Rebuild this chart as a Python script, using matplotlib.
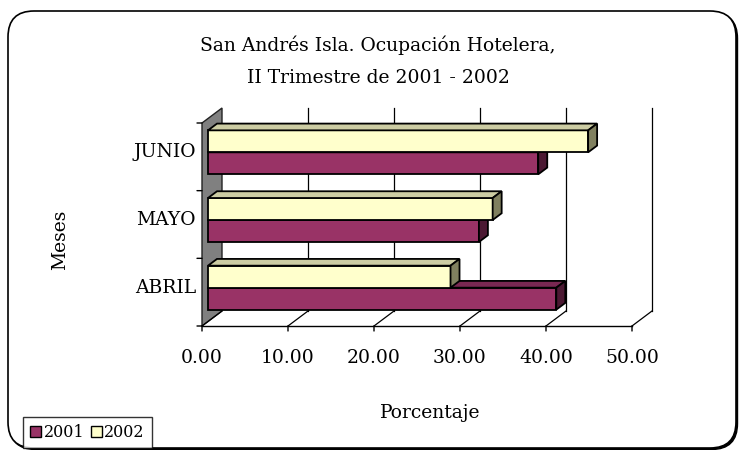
import numpy as np
import matplotlib
matplotlib.use("Agg")
import matplotlib.pyplot as plt
from matplotlib.patches import Polygon, FancyBboxPatch, Patch
from matplotlib.transforms import IdentityTransform

plt.rcParams['font.family'] = 'DejaVu Serif'

# data (percent hotel occupancy)
months = ['ABRIL', 'MAYO', 'JUNIO']
occ_2001 = [40.5, 31.5, 38.4]
occ_2002 = [28.2, 33.1, 44.2]
xticks = [0, 10, 20, 30, 40, 50]

c2001, c2001_top, c2001_side = '#993366', '#7a2852', '#4c1933'
c2002, c2002_top, c2002_side = '#ffffcc', '#cccca3', '#80805f'

FS = 13.5
W, H = 739, 450
fig = plt.figure(figsize=(W / 100, H / 100), dpi=100)

# outer rounded frame with a small shadow
shadow = FancyBboxPatch((9.5, 0.5), 728, 437, boxstyle="round,pad=0,rounding_size=26",
                        transform=IdentityTransform(), fc='black', ec='black', lw=1,
                        zorder=-2)
frame = FancyBboxPatch((8, 2), 728, 437, boxstyle="round,pad=0,rounding_size=26",
                       transform=IdentityTransform(), fc='white', ec='black', lw=1.2,
                       zorder=-1)
fig.add_artist(shadow)
fig.add_artist(frame)

# front plane of the 3d box: x 202..632 px, y 123..326 px (from top)
ax = fig.add_axes([202 / W, (H - 326) / H, 430 / W, 203 / H])
ax.set_xlim(0, 50)
ax.set_ylim(0, 3)
ax.axis('off')

# depth offsets (back wall is 20 px right, 15 px up)
DX = 20 / 8.6
DY = 15 / (203 / 3)


def P(v, c, d):
    return (v + d * DX, c + d * DY)


def poly(pts, fc, ec='black', lw=1.0, z=2):
    ax.add_patch(Polygon(pts, closed=True, fc=fc, ec=ec, lw=lw, zorder=z,
                         clip_on=False, joinstyle='miter'))


# side wall
poly([P(0, 0, 0), P(0, 3, 0), P(0, 3, 1), P(0, 0, 1)], '#808080', ec='#222222', lw=1.0, z=1)

# back gridlines and floor lines
for v in xticks:
    if v > 0:
        x0, y0 = P(v, 0, 1)
        x1, y1 = P(v, 3, 1)
        ax.plot([x0, x1], [y0, y1], color='black', lw=0.9, zorder=1, clip_on=False)
    x0, y0 = P(v, 0, 0)
    x1, y1 = P(v, 0, 1)
    ax.plot([x0, x1], [y0, y1], color='black', lw=0.9, zorder=1, clip_on=False)
ax.plot([0, 50], [0, 0], color='black', lw=1.0, zorder=1, clip_on=False)

# front ticks and tick labels
tick = dict(arrowstyle='-', lw=1.0, color='black', shrinkA=0, shrinkB=0)
for v in xticks:
    ax.annotate('', xy=(v, 0), xytext=(0, -5), textcoords='offset pixels', arrowprops=tick)
    ax.annotate('%.2f' % v, xy=(v, 0), xytext=(0, -32), textcoords='offset pixels',
                ha='center', va='center', fontsize=FS)
for c in range(4):
    ax.annotate('', xy=(0, c), xytext=(-5, 0), textcoords='offset pixels', arrowprops=tick)

# bars
h = 0.325
d0, d1 = 0.3, 0.75


def bar3d(v, y0, y1, front, top, side):
    poly([P(0, y0, d0), P(v, y0, d0), P(v, y1, d0), P(0, y1, d0)], front, lw=1.3, z=3)
    poly([P(0, y1, d0), P(v, y1, d0), P(v, y1, d1), P(0, y1, d1)], top, lw=1.3, z=3)
    poly([P(v, y0, d0), P(v, y1, d0), P(v, y1, d1), P(v, y0, d1)], side, lw=1.3, z=3)


for i, m in enumerate(months):
    c = i + 0.5
    bar3d(occ_2001[i], c - h, c, c2001, c2001_top, c2001_side)
    bar3d(occ_2002[i], c, c + h, c2002, c2002_top, c2002_side)
    lx, ly = P(0, c, d0)
    ax.annotate(m, xy=(0, ly), xytext=(-6, 0), textcoords='offset pixels',
                ha='right', va='center', fontsize=FS)

# titles and axis labels
fig.text(378 / W, 1 - 45 / H, 'San Andrés Isla. Ocupación Hotelera,',
         ha='center', va='center', fontsize=FS)
fig.text(378 / W, 1 - 78 / H, 'II Trimestre de 2001 - 2002',
         ha='center', va='center', fontsize=FS)
fig.text(60 / W, 1 - 240 / H, 'Meses', rotation=90, ha='center', va='center', fontsize=FS)
fig.text(430 / W, 1 - 413 / H, 'Porcentaje', ha='center', va='center', fontsize=FS)

# legend
handles = [Patch(fc=c2001, ec='black', lw=1.0, label='2001'),
           Patch(fc=c2002, ec='black', lw=1.0, label='2002')]
leg = fig.legend(handles=handles, loc='lower left', bbox_to_anchor=(23 / W, 2 / H),
                 ncol=2, fontsize=11.5, frameon=True, fancybox=False, borderaxespad=0,
                 handlelength=0.7, handleheight=0.7, handletextpad=0.15,
                 columnspacing=0.4, borderpad=0.45)
leg.get_frame().set_edgecolor('black')
leg.get_frame().set_linewidth(1.0)

fig.savefig('out.png', dpi=100)
